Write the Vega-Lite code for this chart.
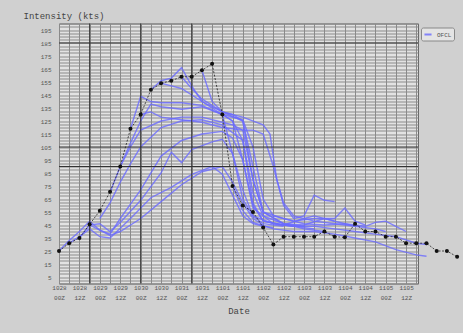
{
  "$schema": "https://vega.github.io/schema/vega-lite/v6.json",
  "width": 359,
  "height": 260,
  "autosize": {"type": "none"},
  "padding": {"left": 59, "top": 23.5, "right": 45, "bottom": 49.5},
  "background": "#d0d0d0",
  "config": {
    "view": {"fill": "#e2e2e2", "stroke": "#666666", "strokeWidth": 1}
  },
  "datasets": {
    "best": [
      {"h": 0, "kt": 25}, {"h": 6, "kt": 31}, {"h": 12, "kt": 35}, {"h": 18, "kt": 45.5},
      {"h": 24, "kt": 56}, {"h": 30, "kt": 70.5}, {"h": 36, "kt": 90}, {"h": 42, "kt": 119},
      {"h": 48, "kt": 130}, {"h": 54, "kt": 149}, {"h": 60, "kt": 154}, {"h": 66, "kt": 156},
      {"h": 72, "kt": 159}, {"h": 78, "kt": 159}, {"h": 84, "kt": 164}, {"h": 90, "kt": 169},
      {"h": 96, "kt": 130}, {"h": 102, "kt": 75}, {"h": 108, "kt": 60}, {"h": 114, "kt": 55},
      {"h": 120, "kt": 43}, {"h": 126, "kt": 30}, {"h": 132, "kt": 36}, {"h": 138, "kt": 36},
      {"h": 144, "kt": 36}, {"h": 150, "kt": 36}, {"h": 156, "kt": 40}, {"h": 162, "kt": 36},
      {"h": 168, "kt": 35.5}, {"h": 174, "kt": 46}, {"h": 180, "kt": 40}, {"h": 186, "kt": 40},
      {"h": 192, "kt": 36}, {"h": 198, "kt": 36}, {"h": 204, "kt": 31}, {"h": 210, "kt": 31},
      {"h": 216, "kt": 31}, {"h": 222, "kt": 25}, {"h": 228, "kt": 25}, {"h": 234, "kt": 20.5}
    ],
    "fc": [
      {"r": "r1", "h": 0, "kt": 25}, {"r": "r1", "h": 6, "kt": 33}, {"r": "r1", "h": 12, "kt": 40}, {"r": "r1", "h": 18, "kt": 48}, {"r": "r1", "h": 24, "kt": 41}, {"r": "r1", "h": 30, "kt": 37}, {"r": "r1", "h": 36, "kt": 40}, {"r": "r1", "h": 48, "kt": 50}, {"r": "r1", "h": 60, "kt": 63}, {"r": "r1", "h": 72, "kt": 76}, {"r": "r1", "h": 84, "kt": 86}, {"r": "r1", "h": 96, "kt": 90}, {"r": "r1", "h": 102, "kt": 78}, {"r": "r1", "h": 108, "kt": 62}, {"r": "r1", "h": 114, "kt": 50}, {"r": "r1", "h": 120, "kt": 45},
      {"r": "r2", "h": 6, "kt": 31}, {"r": "r2", "h": 12, "kt": 36}, {"r": "r2", "h": 18, "kt": 42}, {"r": "r2", "h": 24, "kt": 36}, {"r": "r2", "h": 30, "kt": 35}, {"r": "r2", "h": 42, "kt": 50}, {"r": "r2", "h": 54, "kt": 66}, {"r": "r2", "h": 66, "kt": 74}, {"r": "r2", "h": 78, "kt": 84}, {"r": "r2", "h": 90, "kt": 90}, {"r": "r2", "h": 96, "kt": 84}, {"r": "r2", "h": 102, "kt": 68}, {"r": "r2", "h": 108, "kt": 52}, {"r": "r2", "h": 114, "kt": 46}, {"r": "r2", "h": 120, "kt": 44}, {"r": "r2", "h": 126, "kt": 43},
      {"r": "r3", "h": 12, "kt": 35}, {"r": "r3", "h": 18, "kt": 45}, {"r": "r3", "h": 24, "kt": 46}, {"r": "r3", "h": 30, "kt": 40}, {"r": "r3", "h": 36, "kt": 47}, {"r": "r3", "h": 48, "kt": 64}, {"r": "r3", "h": 60, "kt": 85}, {"r": "r3", "h": 66, "kt": 101}, {"r": "r3", "h": 72, "kt": 93}, {"r": "r3", "h": 78, "kt": 103}, {"r": "r3", "h": 90, "kt": 109}, {"r": "r3", "h": 96, "kt": 111}, {"r": "r3", "h": 102, "kt": 100}, {"r": "r3", "h": 108, "kt": 72}, {"r": "r3", "h": 114, "kt": 52}, {"r": "r3", "h": 120, "kt": 46}, {"r": "r3", "h": 132, "kt": 44},
      {"r": "r4", "h": 18, "kt": 45}, {"r": "r4", "h": 24, "kt": 41}, {"r": "r4", "h": 30, "kt": 38}, {"r": "r4", "h": 36, "kt": 50}, {"r": "r4", "h": 48, "kt": 72}, {"r": "r4", "h": 60, "kt": 98}, {"r": "r4", "h": 72, "kt": 110}, {"r": "r4", "h": 84, "kt": 115}, {"r": "r4", "h": 96, "kt": 117}, {"r": "r4", "h": 102, "kt": 112}, {"r": "r4", "h": 108, "kt": 95}, {"r": "r4", "h": 114, "kt": 60}, {"r": "r4", "h": 120, "kt": 48}, {"r": "r4", "h": 132, "kt": 45}, {"r": "r4", "h": 138, "kt": 44},
      {"r": "r5", "h": 24, "kt": 50}, {"r": "r5", "h": 30, "kt": 62}, {"r": "r5", "h": 36, "kt": 78}, {"r": "r5", "h": 42, "kt": 92}, {"r": "r5", "h": 48, "kt": 105}, {"r": "r5", "h": 60, "kt": 120}, {"r": "r5", "h": 72, "kt": 125}, {"r": "r5", "h": 84, "kt": 126}, {"r": "r5", "h": 96, "kt": 122}, {"r": "r5", "h": 108, "kt": 110}, {"r": "r5", "h": 114, "kt": 70}, {"r": "r5", "h": 120, "kt": 52}, {"r": "r5", "h": 132, "kt": 46}, {"r": "r5", "h": 144, "kt": 44},
      {"r": "r6", "h": 30, "kt": 70}, {"r": "r6", "h": 36, "kt": 90}, {"r": "r6", "h": 42, "kt": 108}, {"r": "r6", "h": 48, "kt": 125}, {"r": "r6", "h": 54, "kt": 138}, {"r": "r6", "h": 60, "kt": 136}, {"r": "r6", "h": 72, "kt": 134}, {"r": "r6", "h": 84, "kt": 136}, {"r": "r6", "h": 96, "kt": 130}, {"r": "r6", "h": 102, "kt": 125}, {"r": "r6", "h": 108, "kt": 95}, {"r": "r6", "h": 114, "kt": 58}, {"r": "r6", "h": 126, "kt": 46}, {"r": "r6", "h": 138, "kt": 44}, {"r": "r6", "h": 150, "kt": 42},
      {"r": "r7", "h": 36, "kt": 90}, {"r": "r7", "h": 42, "kt": 105}, {"r": "r7", "h": 48, "kt": 118}, {"r": "r7", "h": 60, "kt": 125}, {"r": "r7", "h": 72, "kt": 128}, {"r": "r7", "h": 84, "kt": 128}, {"r": "r7", "h": 96, "kt": 124}, {"r": "r7", "h": 102, "kt": 122}, {"r": "r7", "h": 108, "kt": 118}, {"r": "r7", "h": 114, "kt": 80}, {"r": "r7", "h": 120, "kt": 55}, {"r": "r7", "h": 132, "kt": 46}, {"r": "r7", "h": 144, "kt": 42}, {"r": "r7", "h": 156, "kt": 40},
      {"r": "r8", "h": 42, "kt": 119}, {"r": "r8", "h": 48, "kt": 144}, {"r": "r8", "h": 54, "kt": 140}, {"r": "r8", "h": 60, "kt": 139}, {"r": "r8", "h": 72, "kt": 139}, {"r": "r8", "h": 84, "kt": 137}, {"r": "r8", "h": 96, "kt": 130}, {"r": "r8", "h": 102, "kt": 125}, {"r": "r8", "h": 108, "kt": 110}, {"r": "r8", "h": 114, "kt": 62}, {"r": "r8", "h": 120, "kt": 48}, {"r": "r8", "h": 132, "kt": 45}, {"r": "r8", "h": 144, "kt": 50}, {"r": "r8", "h": 150, "kt": 52}, {"r": "r8", "h": 162, "kt": 48},
      {"r": "r9", "h": 48, "kt": 130}, {"r": "r9", "h": 54, "kt": 132}, {"r": "r9", "h": 60, "kt": 128}, {"r": "r9", "h": 72, "kt": 126}, {"r": "r9", "h": 84, "kt": 124}, {"r": "r9", "h": 96, "kt": 120}, {"r": "r9", "h": 108, "kt": 118}, {"r": "r9", "h": 114, "kt": 118}, {"r": "r9", "h": 120, "kt": 115}, {"r": "r9", "h": 126, "kt": 90}, {"r": "r9", "h": 132, "kt": 60}, {"r": "r9", "h": 138, "kt": 50}, {"r": "r9", "h": 144, "kt": 52}, {"r": "r9", "h": 150, "kt": 68}, {"r": "r9", "h": 156, "kt": 64}, {"r": "r9", "h": 162, "kt": 63},
      {"r": "r10", "h": 54, "kt": 149}, {"r": "r10", "h": 60, "kt": 156}, {"r": "r10", "h": 66, "kt": 158}, {"r": "r10", "h": 72, "kt": 166}, {"r": "r10", "h": 78, "kt": 152}, {"r": "r10", "h": 84, "kt": 140}, {"r": "r10", "h": 96, "kt": 132}, {"r": "r10", "h": 108, "kt": 125}, {"r": "r10", "h": 114, "kt": 90}, {"r": "r10", "h": 120, "kt": 55}, {"r": "r10", "h": 132, "kt": 46}, {"r": "r10", "h": 144, "kt": 45}, {"r": "r10", "h": 156, "kt": 50}, {"r": "r10", "h": 168, "kt": 46}, {"r": "r10", "h": 174, "kt": 44},
      {"r": "r11", "h": 60, "kt": 154}, {"r": "r11", "h": 66, "kt": 152}, {"r": "r11", "h": 72, "kt": 150}, {"r": "r11", "h": 84, "kt": 140}, {"r": "r11", "h": 96, "kt": 130}, {"r": "r11", "h": 108, "kt": 126}, {"r": "r11", "h": 114, "kt": 105}, {"r": "r11", "h": 120, "kt": 65}, {"r": "r11", "h": 126, "kt": 52}, {"r": "r11", "h": 138, "kt": 48}, {"r": "r11", "h": 150, "kt": 50}, {"r": "r11", "h": 162, "kt": 50}, {"r": "r11", "h": 168, "kt": 58}, {"r": "r11", "h": 174, "kt": 48}, {"r": "r11", "h": 180, "kt": 45},
      {"r": "r12", "h": 72, "kt": 159}, {"r": "r12", "h": 78, "kt": 150}, {"r": "r12", "h": 84, "kt": 142}, {"r": "r12", "h": 96, "kt": 132}, {"r": "r12", "h": 108, "kt": 128}, {"r": "r12", "h": 120, "kt": 122}, {"r": "r12", "h": 124, "kt": 115}, {"r": "r12", "h": 128, "kt": 80}, {"r": "r12", "h": 132, "kt": 62}, {"r": "r12", "h": 138, "kt": 52}, {"r": "r12", "h": 150, "kt": 48}, {"r": "r12", "h": 162, "kt": 46}, {"r": "r12", "h": 174, "kt": 44}, {"r": "r12", "h": 186, "kt": 42}, {"r": "r12", "h": 192, "kt": 40},
      {"r": "r13", "h": 84, "kt": 164}, {"r": "r13", "h": 90, "kt": 140}, {"r": "r13", "h": 96, "kt": 132}, {"r": "r13", "h": 102, "kt": 130}, {"r": "r13", "h": 108, "kt": 125}, {"r": "r13", "h": 114, "kt": 80}, {"r": "r13", "h": 120, "kt": 55}, {"r": "r13", "h": 132, "kt": 50}, {"r": "r13", "h": 144, "kt": 46}, {"r": "r13", "h": 156, "kt": 45}, {"r": "r13", "h": 168, "kt": 46}, {"r": "r13", "h": 180, "kt": 44}, {"r": "r13", "h": 186, "kt": 47}, {"r": "r13", "h": 192, "kt": 48}, {"r": "r13", "h": 198, "kt": 44}, {"r": "r13", "h": 204, "kt": 40},
      {"r": "r14", "h": 96, "kt": 130}, {"r": "r14", "h": 102, "kt": 100}, {"r": "r14", "h": 108, "kt": 65}, {"r": "r14", "h": 114, "kt": 52}, {"r": "r14", "h": 126, "kt": 46}, {"r": "r14", "h": 138, "kt": 44}, {"r": "r14", "h": 150, "kt": 44}, {"r": "r14", "h": 162, "kt": 42}, {"r": "r14", "h": 174, "kt": 40}, {"r": "r14", "h": 186, "kt": 38}, {"r": "r14", "h": 198, "kt": 36}, {"r": "r14", "h": 210, "kt": 31}, {"r": "r14", "h": 216, "kt": 30},
      {"r": "r15", "h": 102, "kt": 75}, {"r": "r15", "h": 108, "kt": 56}, {"r": "r15", "h": 114, "kt": 47}, {"r": "r15", "h": 126, "kt": 42}, {"r": "r15", "h": 138, "kt": 40}, {"r": "r15", "h": 150, "kt": 40}, {"r": "r15", "h": 162, "kt": 38}, {"r": "r15", "h": 174, "kt": 35}, {"r": "r15", "h": 186, "kt": 32}, {"r": "r15", "h": 198, "kt": 26}, {"r": "r15", "h": 210, "kt": 22}, {"r": "r15", "h": 216, "kt": 21}
    ]
  },
  "layer": [
    {
      "data": {"name": "fc"},
      "mark": {"type": "line", "strokeWidth": 1.4, "opacity": 0.8},
      "encoding": {
        "x": {
          "field": "h", "type": "quantitative",
          "scale": {"domain": [0, 211], "nice": false, "zero": false},
          "axis": {
            "title": "Date",
            "values": [0, 6, 12, 18, 24, 30, 36, 42, 48, 54, 60, 66, 72, 78, 84, 90, 96, 102, 108, 114, 120, 126, 132, 138, 144, 150, 156, 162, 168, 174, 180, 186, 192, 198, 204, 210],
            "tickCount": 200,
            "labelExpr": "datum.value % 12 == 0 ? [(datum.value < 96 ? '10' + (28 + floor(datum.value / 24)) : '110' + (floor(datum.value / 24) - 3)), (datum.value % 24 == 0 ? '00Z' : '12Z')] : ''",
            "grid": true, "gridColor": "#8a8a8a", "gridWidth": 1, "gridOpacity": 1,
            "ticks": false, "domain": false,
            "labelFont": "Liberation Mono", "labelFontSize": 6, "labelColor": "#555555",
            "labelLineHeight": 10, "labelPadding": 1, "labelOverlap": false, "labelFlush": false, "labelBound": false,
            "titleFont": "Liberation Mono", "titleFontSize": 9, "titleFontWeight": "normal", "titleColor": "#444444",
            "titleY": 27, "titleBaseline": "middle"
          }
        },
        "y": {
          "field": "kt", "type": "quantitative",
          "scale": {"domain": [0, 200], "nice": false, "zero": false},
          "axis": {
            "title": "Intensity (kts)",
            "values": [0, 2.5, 5, 7.5, 10, 12.5, 15, 17.5, 20, 22.5, 25, 27.5, 30, 32.5, 35, 37.5, 40, 42.5, 45, 47.5, 50, 52.5, 55, 57.5, 60, 62.5, 65, 67.5, 70, 72.5, 75, 77.5, 80, 82.5, 85, 87.5, 90, 92.5, 95, 97.5, 100, 102.5, 105, 107.5, 110, 112.5, 115, 117.5, 120, 122.5, 125, 127.5, 130, 132.5, 135, 137.5, 140, 142.5, 145, 147.5, 150, 152.5, 155, 157.5, 160, 162.5, 165, 167.5, 170, 172.5, 175, 177.5, 180, 182.5, 185, 187.5, 190, 192.5, 195, 197.5, 200],
            "tickCount": 200,
            "labelExpr": "datum.value % 10 == 5 ? datum.label : ''",
            "grid": true, "gridColor": "#8a8a8a", "gridWidth": 1, "gridOpacity": 1,
            "ticks": false, "domain": false,
            "labelFont": "Liberation Mono", "labelFontSize": 6, "labelColor": "#555555",
            "labelPadding": 8, "labelOverlap": false, "labelBound": false,
            "titleFont": "Liberation Mono", "titleFontSize": 9, "titleFontWeight": "normal", "titleColor": "#444444",
            "titleAngle": 0, "titleX": -36, "titleY": -8.5, "titleAlign": "left", "titleBaseline": "middle"
          }
        },
        "detail": {"field": "r", "type": "nominal"},
        "color": {
          "datum": "OFCL", "type": "nominal",
          "scale": {"domain": ["OFCL"], "range": ["#6a6aff"]},
          "legend": {
            "title": null, "orient": "none", "legendX": 362, "legendY": 4,
            "symbolType": "stroke", "symbolStrokeWidth": 2, "symbolSize": 50,
            "labelFont": "Liberation Mono", "labelFontSize": 6, "labelColor": "#555555",
            "fillColor": "#e4e4e4", "strokeColor": "#888888", "padding": 2, "cornerRadius": 2
          }
        }
      }
    },
    {
      "data": {"values": [{"h": 18}, {"h": 48}, {"h": 78}]},
      "mark": {"type": "rule", "color": "#333333", "strokeWidth": 1},
      "encoding": {
        "x": {"field": "h", "type": "quantitative", "scale": {"domain": [0, 211], "nice": false, "zero": false}}
      }
    },
    {
      "data": {"values": [{"kt": 90}, {"kt": 105}, {"kt": 185}]},
      "mark": {"type": "rule", "color": "#333333", "strokeWidth": 1},
      "encoding": {
        "y": {"field": "kt", "type": "quantitative", "scale": {"domain": [0, 200], "nice": false, "zero": false}}
      }
    },
    {
      "data": {"name": "best"},
      "mark": {"type": "line", "color": "#222222", "strokeWidth": 0.8, "strokeDash": [2, 1.5]},
      "encoding": {
        "x": {"field": "h", "type": "quantitative", "scale": {"domain": [0, 211], "nice": false, "zero": false}},
        "y": {"field": "kt", "type": "quantitative", "scale": {"domain": [0, 200], "nice": false, "zero": false}}
      }
    },
    {
      "data": {"name": "best"},
      "mark": {"type": "point", "filled": true, "color": "#111111", "size": 16, "opacity": 1},
      "encoding": {
        "x": {"field": "h", "type": "quantitative", "scale": {"domain": [0, 211], "nice": false, "zero": false}},
        "y": {"field": "kt", "type": "quantitative", "scale": {"domain": [0, 200], "nice": false, "zero": false}}
      }
    }
  ]
}
